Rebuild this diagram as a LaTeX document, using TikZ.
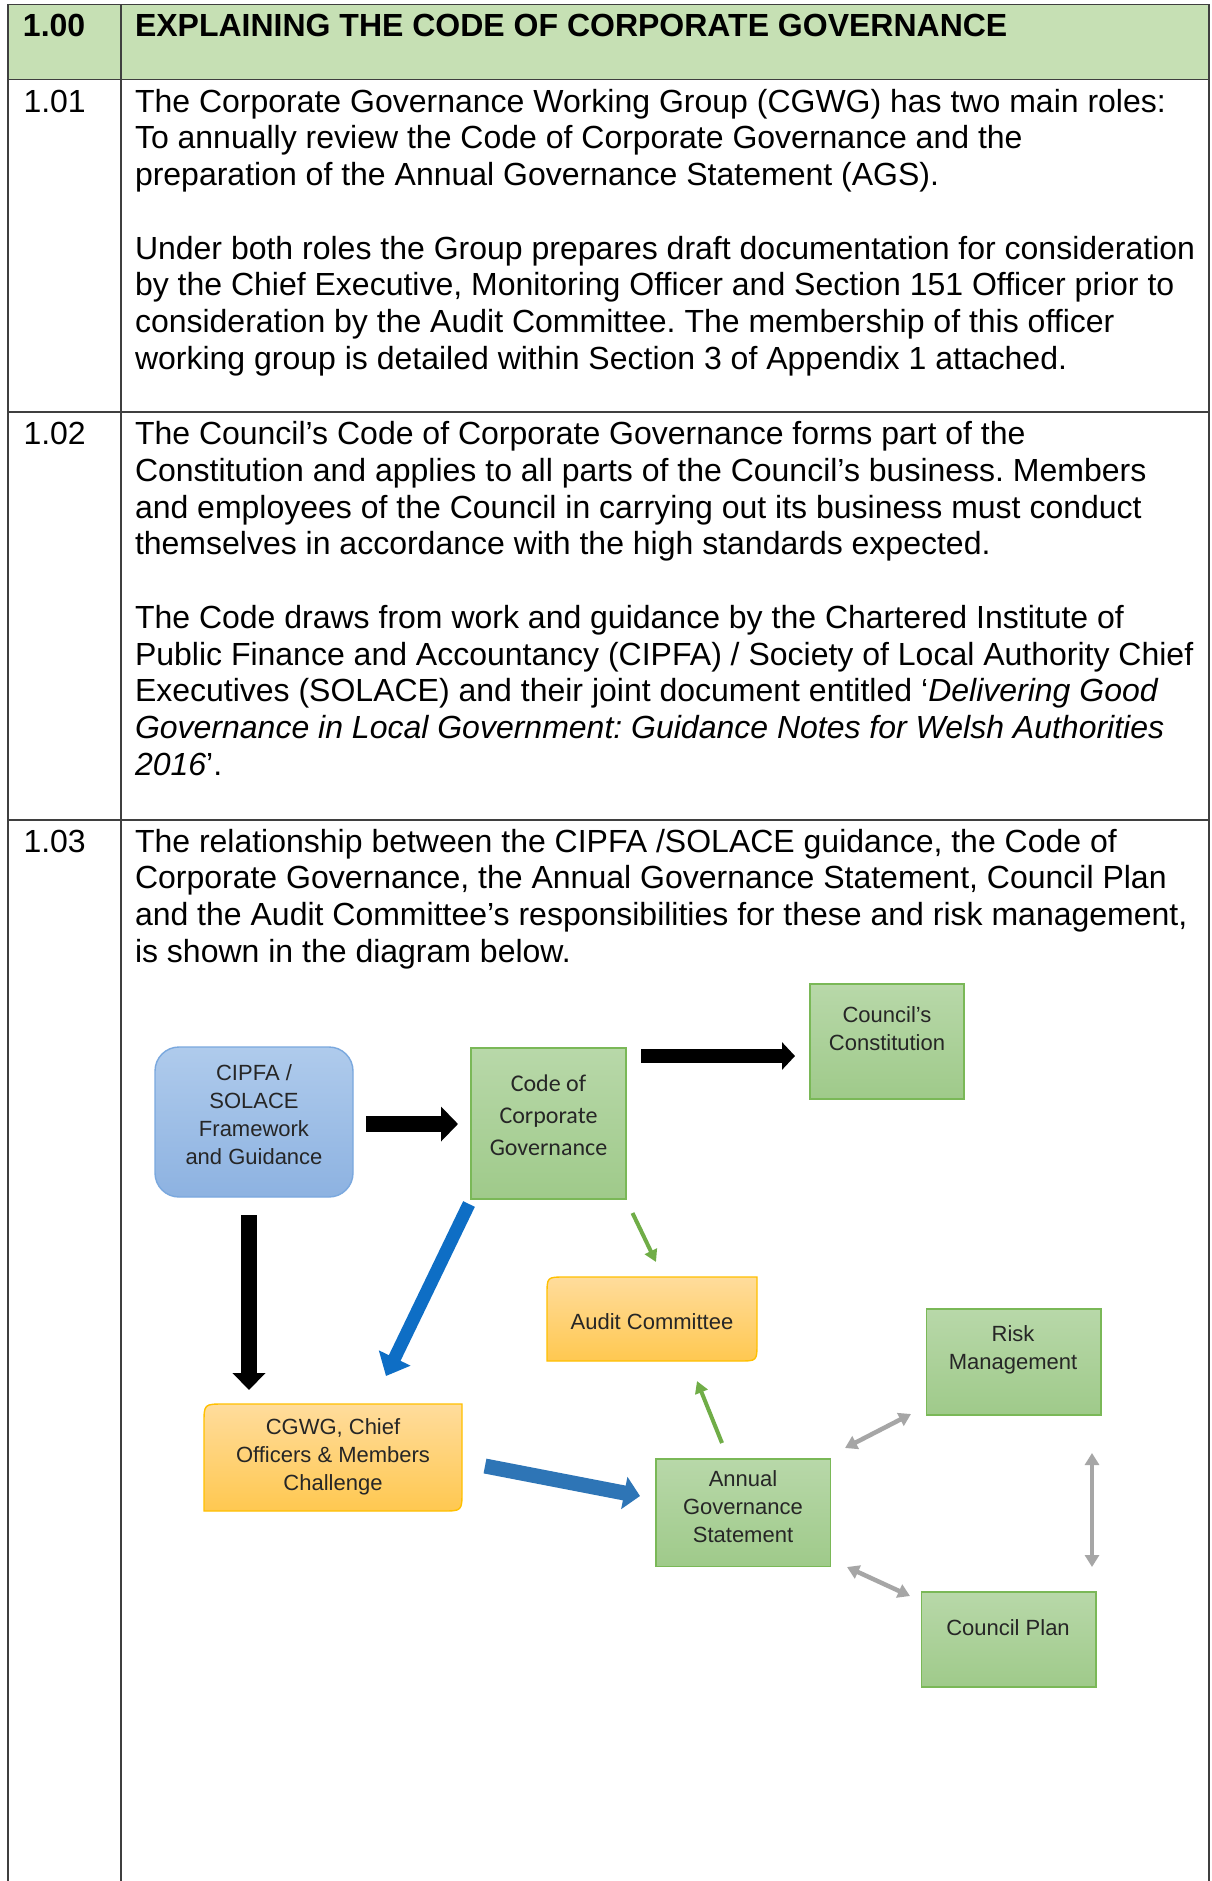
\documentclass[tikz,border=0pt]{standalone}
\usepackage{fontspec}
\setmainfont{Liberation Sans}
\newfontfamily\calfont{Carlito}
\usetikzlibrary{arrows.meta,calc}
\frenchspacing
\definecolor{hdr}{HTML}{C6E0B4}
\definecolor{rule}{HTML}{3F3F3F}
\definecolor{gtop}{HTML}{B8D8A9}
\definecolor{gbot}{HTML}{9FCA8A}
\definecolor{gbord}{HTML}{7AB857}
\definecolor{btop}{HTML}{AFCBEC}
\definecolor{bbot}{HTML}{8DB2E1}
\definecolor{bbord}{HTML}{7AA8DE}
\definecolor{otop}{HTML}{FFDC9C}
\definecolor{obot}{HTML}{FFC850}
\definecolor{obord}{HTML}{FFC000}
\definecolor{dtext}{HTML}{262626}
\definecolor{blueA}{HTML}{0E6EC5}
\definecolor{blueB}{HTML}{2E75B6}
\definecolor{grn}{HTML}{70AD47}
\definecolor{gry}{HTML}{A6A6A6}
\newcommand\bodyf{\fontsize{32}{36.75}\selectfont}
\newcommand\diagf{\fontsize{22}{28}\selectfont}
\newcommand\codef{\calfont\fontsize{24}{32}\selectfont}
\tikzset{
  ln/.style={anchor=base west, inner sep=0pt, outer sep=0pt, font=\bodyf},
  hd/.style={anchor=base west, inner sep=0pt, outer sep=0pt, font=\bodyf\bfseries},
  gbox/.style={rectangle, draw=gbord, line width=1.4pt, top color=gtop, bottom color=gbot, inner sep=0pt},
  bbox/.style={rectangle, rounded corners=24pt, draw=bbord, line width=1.4pt, top color=btop, bottom color=bbot, inner sep=0pt},
  holder/.style={rectangle, inner sep=0pt, outer sep=0pt, draw=none},
  oshape/.style={draw=obord, line width=1.4pt, top color=otop, bottom color=obot},
  lab/.style={font=\diagf, text=dtext, align=center, inner sep=0pt},
  blk/.style={draw=black, -{Triangle[length=17pt,width=34pt]}},
  bluearr/.style={-{Triangle[length=20pt,width=34pt]}},
  grnarr/.style={draw=grn, line width=4pt, -{Triangle[length=12pt,width=13pt]}},
  gryarr/.style={draw=gry, line width=4.5pt, {Triangle[length=12pt,width=14pt]}-{Triangle[length=12pt,width=14pt]}},
  tline/.style={draw=rule, line width=1.6pt}
}
\begin{document}
\begin{tikzpicture}[x=1pt,y=-1pt]
\useasboundingbox (0,0) rectangle (1211,1881);
\fill[white] (0,0) rectangle (1211,1881);
% table
\fill[hdr] (8,4.5) rectangle (1209,79.5);
\draw[tline] (8,4.5) -- (1209,4.5);
\draw[tline] (8,79.5) -- (1209,79.5);
\draw[tline] (8,411.7) -- (1209,411.7);
\draw[tline] (8,819.7) -- (1209,819.7);
\draw[tline] (8,4.5) -- (8,1881);
\draw[tline] (121,4.5) -- (121,1881);
\draw[tline] (1209,4.5) -- (1209,1881);
% header
\node[hd] (n0) at (23,37) {1.00};
\node[hd] (t0) at (135,37) {EXPLAINING THE CODE OF CORPORATE GOVERNANCE};
% 1.01
\node[ln] (n1) at (23.5,112.2) {1.01};
\node[ln] (a1) at (135,112.2) {The Corporate Governance Working Group (CGWG) has two main roles:};
\node[ln] (a2) at (135,148.95) {To annually review the Code of Corporate Governance and the};
\node[ln] (a3) at (135,185.7) {preparation of the Annual Governance Statement (AGS).};
\node[ln] (a4) at (135,259.2) {Under both roles the Group prepares draft documentation for consideration};
\node[ln] (a5) at (135,295.95) {by the Chief Executive, Monitoring Officer and Section 151 Officer prior to};
\node[ln] (a6) at (135,332.7) {consideration by the Audit Committee. The membership of this officer};
\node[ln] (a7) at (135,369.45) {working group is detailed within Section 3 of Appendix 1 attached.};
% 1.02
\node[ln] (n2) at (23.5,444.7) {1.02};
\node[ln] (b1) at (135,444.7) {The Council’s Code of Corporate Governance forms part of the};
\node[ln] (b2) at (135,481.45) {Constitution and applies to all parts of the Council’s business. Members};
\node[ln] (b3) at (135,518.2) {and employees of the Council in carrying out its business must conduct};
\node[ln] (b4) at (135,554.95) {themselves in accordance with the high standards expected.};
\node[ln] (b5) at (135,628.45) {The Code draws from work and guidance by the Chartered Institute of};
\node[ln] (b6) at (135,665.2) {Public Finance and Accountancy (CIPFA) / Society of Local Authority Chief};
\node[ln] (b7) at (135,701.95) {Executives (SOLACE) and their joint document entitled ‘\textit{Delivering Good}};
\node[ln] (b8) at (135,738.7) {\textit{Governance in Local Government: Guidance Notes for Welsh Authorities}};
\node[ln] (b9) at (135,775.45) {\textit{2016}’.};
% 1.03
\node[ln] (n3) at (23.5,852) {1.03};
\node[ln] (c1) at (135,852) {The relationship between the CIPFA /SOLACE guidance, the Code of};
\node[ln] (c2) at (135,888.75) {Corporate Governance, the Annual Governance Statement, Council Plan};
\node[ln] (c3) at (135,925.5) {and the Audit Committee’s responsibilities for these and risk management,};
\node[ln] (c4) at (135,962.25) {is shown in the diagram below.};
% diagram boxes
\node[bbox, minimum width=198pt, minimum height=150pt] (cipfa) at (254,1122) {};
\node[gbox, minimum width=155pt, minimum height=151pt] (code) at (548.5,1123.5) {};
\node[gbox, minimum width=154pt, minimum height=115pt] (const) at (887,1041.5) {};
\node[holder, minimum width=210pt, minimum height=84pt] (audit) at (652,1319) {};
\path[oshape] (audit.south west) -- ($(audit.north west)+(0,18)$) .. controls (audit.north west) .. ($(audit.north west)+(18,0)$) -- (audit.north east) -- ($(audit.south east)+(0,-18)$) .. controls (audit.south east) .. ($(audit.south east)+(-18,0)$) -- cycle;
\node[holder, minimum width=258pt, minimum height=107pt] (cgwg) at (333,1457.5) {};
\path[oshape] (cgwg.south west) -- ($(cgwg.north west)+(0,20)$) .. controls (cgwg.north west) .. ($(cgwg.north west)+(20,0)$) -- (cgwg.north east) -- ($(cgwg.south east)+(0,-20)$) .. controls (cgwg.south east) .. ($(cgwg.south east)+(-20,0)$) -- cycle;
\node[gbox, minimum width=174.5pt, minimum height=107.5pt] (ags) at (743.25,1512.75) {};
\node[gbox, minimum width=174.3pt, minimum height=106pt] (risk) at (1013.85,1362) {};
\node[gbox, minimum width=174.3pt, minimum height=95pt] (plan) at (1008.85,1639.5) {};
% labels
\node[lab] (cipfaT) at (254,1115) {CIPFA /\\SOLACE\\Framework\\and Guidance};
\node[lab, font=\codef] (codeT) at (548.5,1115) {Code of\\Corporate\\Governance};
\node[lab] (constT) at (887,1029) {Council’s\\Constitution};
\node[lab] (auditT) at (652,1322) {Audit Committee};
\node[lab] (cgwgT) at (333,1457) {CGWG, Chief\\Officers \& Members\\Challenge};
\node[lab] (agsT) at (743,1507) {Annual\\Governance\\Statement};
\node[lab] (riskT) at (1013,1350) {Risk\\Management};
\node[lab] (planT) at (1008,1628) {Council Plan};
% arrow end points
\coordinate (p1a) at (366,1124);
\coordinate (p1b) at (458,1124);
\coordinate (p2a) at (641,1056);
\coordinate (p2b) at (795,1056);
\coordinate (p3a) at (249,1215);
\coordinate (p3b) at (249,1390);
\coordinate (p4a) at (469,1204);
\coordinate (p4b) at (386,1376);
\coordinate (p5a) at (485,1466);
\coordinate (p5b) at (640,1496);
\coordinate (g1a) at (632.5,1213);
\coordinate (g1b) at (656,1262);
\coordinate (g2a) at (722,1443);
\coordinate (g2b) at (697,1381);
\coordinate (r1a) at (845,1448);
\coordinate (r1b) at (911,1414);
\coordinate (r2a) at (847,1567);
\coordinate (r2b) at (910,1596);
\coordinate (r3a) at (1092,1453);
\coordinate (r3b) at (1092,1567);
% arrows
\draw[blk, line width=16pt] (p1a) -- (p1b);
\draw[blk, line width=14pt, -{Triangle[length=13pt,width=27pt]}] (p2a) -- (p2b);
\draw[blk, line width=16pt, -{Triangle[length=17pt,width=32pt]}] (p3a) -- (p3b);
\draw[bluearr, draw=blueA, line width=13pt] (p4a) -- (p4b);
\draw[bluearr, draw=blueB, line width=15pt, -{Triangle[length=16pt,width=32pt]}] (p5a) -- (p5b);
\draw[grnarr] (g1a) -- (g1b);
\draw[grnarr] (g2a) -- (g2b);
\draw[gryarr] (r1a) -- (r1b);
\draw[gryarr] (r2a) -- (r2b);
\draw[gryarr] (r3a) -- (r3b);
\end{tikzpicture}
\end{document}
